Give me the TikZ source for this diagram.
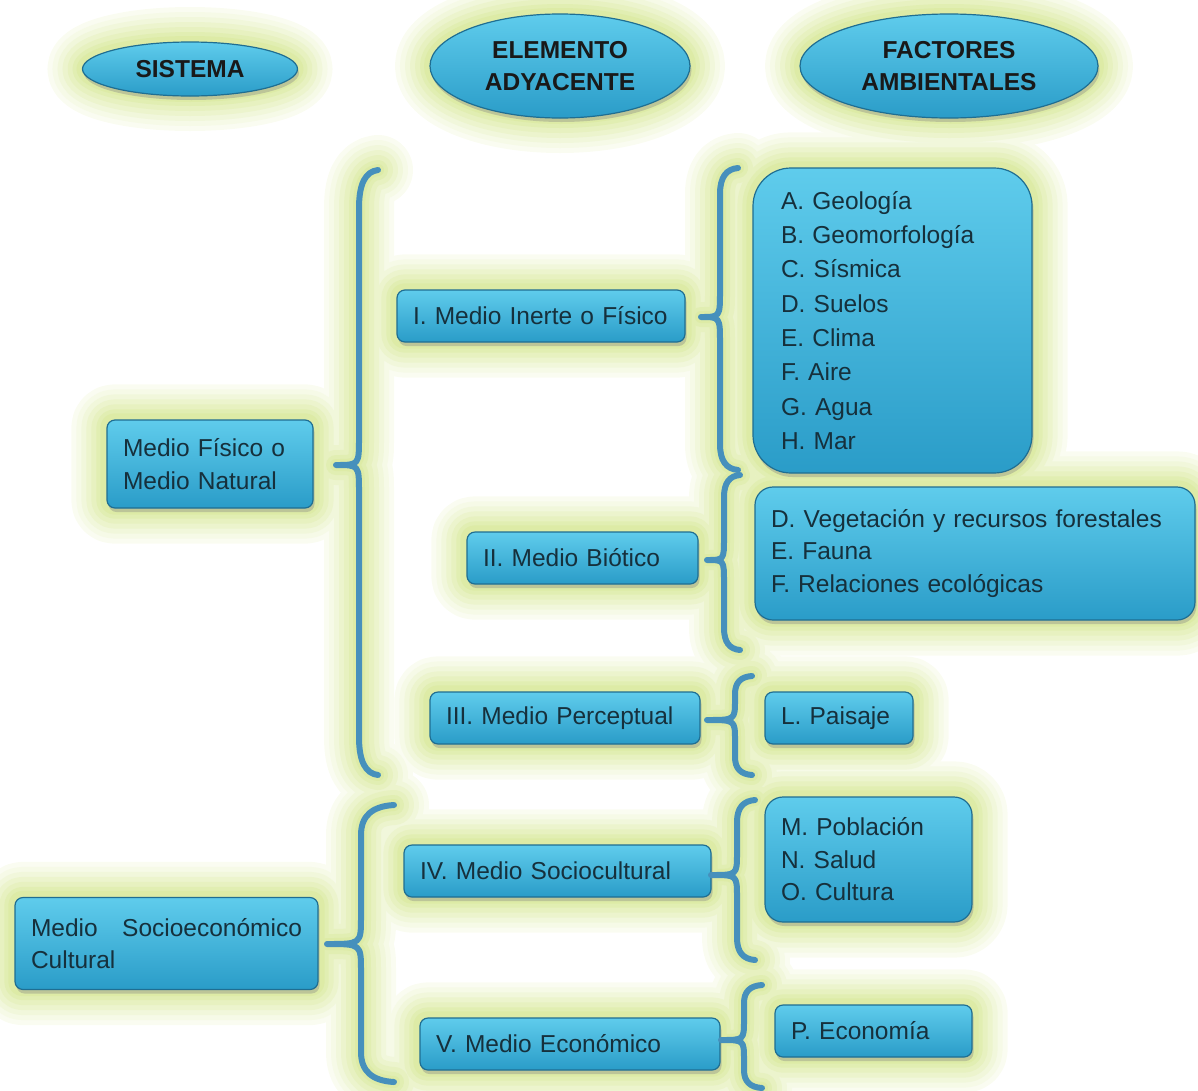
\documentclass[tikz,border=0pt]{standalone}
\usepackage{fontspec}
\setmainfont{Liberation Sans}
\usepackage{tikz}
\usetikzlibrary{arrows, positioning, calc, shapes.geometric, shadows, backgrounds}

\definecolor{cajaarriba}{HTML}{5FCCEC}
\definecolor{cajaabajo}{HTML}{2A9CC8}
\definecolor{borde}{HTML}{1F6E92}
\definecolor{letra}{HTML}{16303C}
\definecolor{llaveazul}{HTML}{4690BC}
\definecolor{resplandor}{HTML}{D9E99C}

% llave: [estilo]{x extremo}{x linea}{x pico}{y sup}{y pico}{y inf}{rizo}{curva pico}
\newcommand\llave[9][llave]{%
  \draw[#1] (#2,#5) .. controls ({#3+0.35*(#2-#3)},{#5+0.04*#8}) and (#3,{#5+0.35*#8}) .. (#3,#5+#8)
    -- (#3,#6-#9) .. controls (#3,#6) .. (#4,#6) .. controls (#3,#6) .. (#3,#6+#9)
    -- (#3,#7-#8) .. controls (#3,{#7-0.35*#8}) and ({#3+0.35*(#2-#3)},{#7-0.04*#8}) .. (#2,#7);}
\def\llaves{378/359/336/170/465/775/38/27, 738/720/701/168/317/470/26/26,
  740/724/707/475/560/650/22/22, 752/735/707/676/720/775/18/20,
  394/361/327/805/944/1082/30/27, 755/737/711/800/875/960/22/22,
  762/744/721/985/1040/1088/18/20}

\begin{document}
\begin{tikzpicture}[x=1pt,y=-1pt,
    caja/.style={draw=borde, line width=1.2pt, rounded corners=8pt,
      top color=cajaarriba, bottom color=cajaabajo, text=letra,
      font=\fontsize{24.5}{32.5}\selectfont, align=left,
      inner xsep=16pt, inner ysep=0pt, minimum height=52pt,
      drop shadow={shadow xshift=1.5pt, shadow yshift=-4pt, opacity=.35}},
    titulo/.style={caja, ellipse, sharp corners, align=center, inner sep=0pt,
      text=black!90, font=\bfseries\fontsize{24.5}{32}\selectfont},
    halo/.style={draw=resplandor!#1, line cap=round, line join=round},
    llave/.style={draw=llaveazul, line width=6pt, line cap=round, line join=round}]

  \useasboundingbox (0,0) rectangle (1198,1090);

  % encabezados
  \node[titulo, minimum width=215pt, minimum height=54pt] (sis) at (190,69) {SISTEMA};
  \node[titulo, minimum width=260pt, minimum height=104pt] (ele) at (560,66) {ELEMENTO\\ADYACENTE};
  \node[titulo, minimum width=298pt, minimum height=104pt] (fac) at (949,66) {FACTORES\\AMBIENTALES};

  % sistemas
  \node[caja, text width=174pt, minimum height=88pt] (fisico) at (210,464) {Medio Físico o\\Medio Natural};
  \node[caja, text width=271pt, minimum height=92pt] (socio) at (166.5,943.5)
    {\hbox to 271pt{Medio\hfill Socioeconómico}\\Cultural};

  % elementos
  \node[caja, text width=256pt] (inerte) at (541,316) {I. Medio Inerte o Físico};
  \node[caja, text width=199pt] (biotico) at (582.5,558) {II. Medio Biótico};
  \node[caja, text width=238pt] (percep) at (565,718) {III. Medio Perceptual};
  \node[caja, text width=275pt] (sociocul) at (557.5,871) {IV. Medio Sociocultural};
  \node[caja, text width=268pt] (econo) at (570,1044) {V. Medio Económico};

  % factores
  \node[caja, text width=223pt, inner xsep=28pt, minimum height=305pt, rounded corners=38pt,
    font=\fontsize{24.5}{34.3}\selectfont] (geo) at (892.5,320.5)
    {A. Geología\\B. Geomorfología\\C. Sísmica\\D. Suelos\\E. Clima\\F. Aire\\G. Agua\\H. Mar};
  \node[caja, text width=408pt, minimum height=133pt, rounded corners=18pt] (bio) at (975,553.5)
    {D. Vegetación y recursos forestales\\E. Fauna\\F. Relaciones ecológicas};
  \node[caja, text width=116pt] (paisaje) at (839,718) {L. Paisaje};
  \node[caja, text width=175pt, minimum height=125pt, rounded corners=18pt] (pobla) at (868.5,859.5)
    {M. Población\\N. Salud\\O. Cultura};
  \node[caja, text width=165pt] (econf) at (873.5,1031) {P. Economía};

  % llaves
  \foreach \a/\b/\t/\p/\q/\s/\u/\v in \llaves
    \llave{\a}{\b}{\t}{\p}{\q}{\s}{\u}{\v};

  % resplandor
  \begin{pgfonlayer}{background}
    \foreach \w/\c in {70/14, 60/24, 50/36, 40/50, 30/64, 20/78, 12/90}{
      \foreach \n/\r in {fisico/8, socio/8, inerte/8, biotico/8, percep/8, sociocul/8, econo/8,
          geo/38, bio/18, paisaje/8, pobla/18, econf/8}
        \draw[halo=\c, line width=\w pt, rounded corners=\r pt] (\n.north west) rectangle (\n.south east);
      \foreach \n/\a/\b in {sis/107.5/27, ele/130/52, fac/149/52}
        \draw[halo=\c, line width=\w pt] (\n.center) ellipse [x radius=\a, y radius=\b];
      \foreach \a/\b/\t/\p/\q/\s/\u/\v in \llaves
        \llave[halo=\c, line width=\w pt]{\a}{\b}{\t}{\p}{\q}{\s}{\u}{\v};
    }
  \end{pgfonlayer}
\end{tikzpicture}
\end{document}
